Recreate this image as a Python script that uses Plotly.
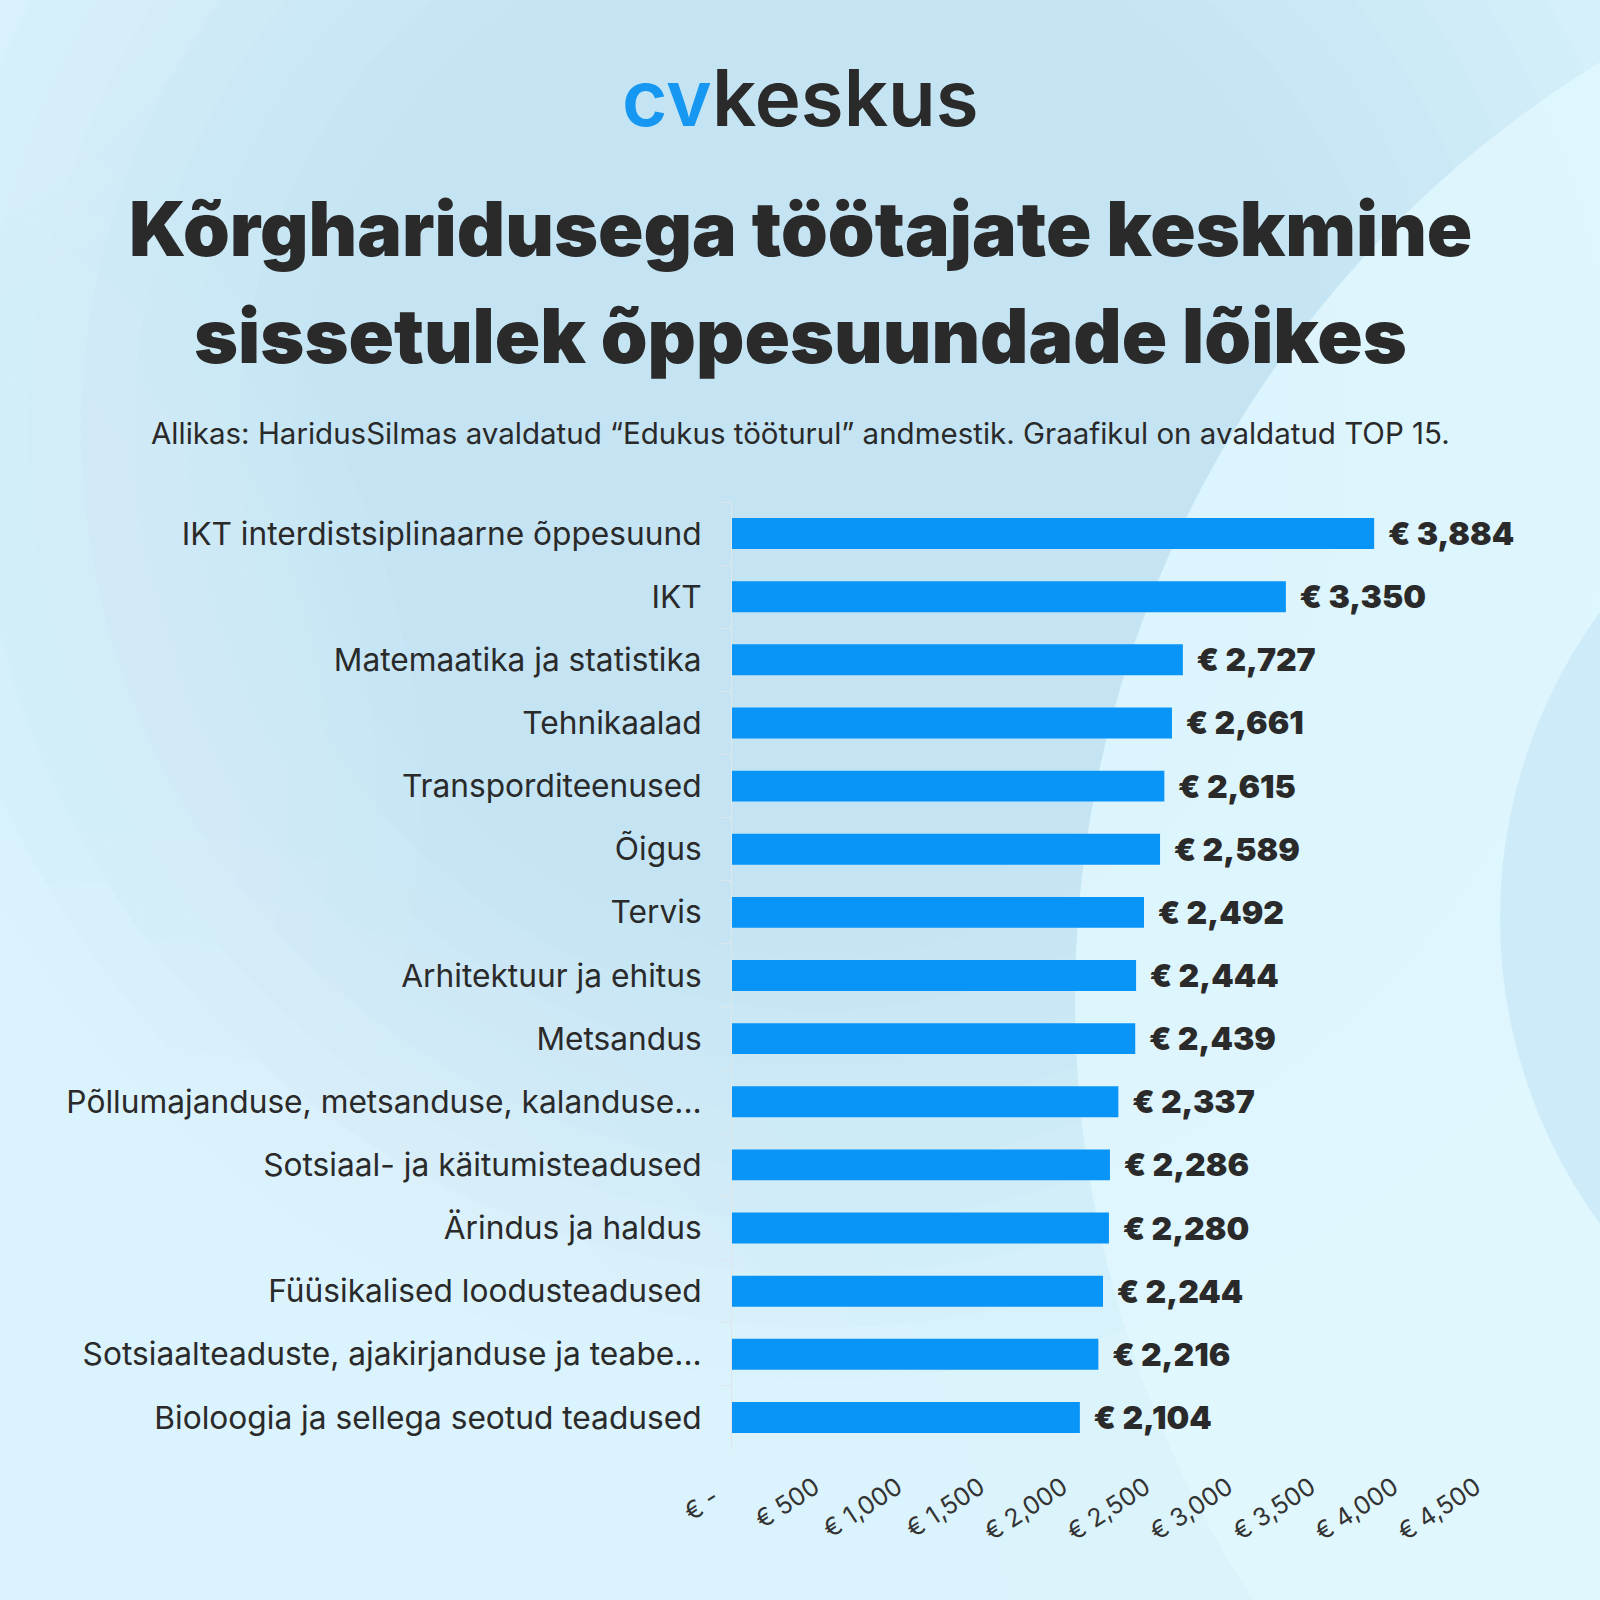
import plotly.graph_objects as go

# ---------------- data ----------------
categories = [
    "IKT interdistsiplinaarne õppesuund",
    "IKT",
    "Matemaatika ja statistika",
    "Tehnikaalad",
    "Transporditeenused",
    "Õigus",
    "Tervis",
    "Arhitektuur ja ehitus",
    "Metsandus",
    "Põllumajanduse, metsanduse, kalanduse...",
    "Sotsiaal- ja käitumisteadused",
    "Ärindus ja haldus",
    "Füüsikalised loodusteadused",
    "Sotsiaalteaduste, ajakirjanduse ja teabe...",
    "Bioloogia ja sellega seotud teadused",
]
income = [3884, 3350, 2727, 2661, 2615, 2589, 2492, 2444, 2439, 2337, 2286, 2280, 2244, 2216, 2104]
tick_values = [0, 500, 1000, 1500, 2000, 2500, 3000, 3500, 4000, 4500]
tick_labels = ["€ -\u00a0\u00a0\u00a0", "€ 500", "€ 1,000", "€ 1,500", "€ 2,000", "€ 2,500",
               "€ 3,000", "€ 3,500", "€ 4,000", "€ 4,500"]

logo_html = "<span style='color:#1697f2'>cv</span>keskus"
title_line1 = "Kõrgharidusega töötajate keskmine"
title_line2 = "sissetulek õppesuundade lõikes"
subtitle = "Allikas: HaridusSilmas avaldatud “Edukus tööturul” andmestik. Graafikul on avaldatud TOP 15."

# ---------------- layout geometry ----------------
W = H = 1600
L, R, T, B = 732, 124, 502, 151
PW = W - L - R
PH = H - T - B


def px(x):
    return (x - L) / PW


def py(y):
    return (H - B - y) / PH


DARK = "#2a2a2a"
FONT = "Inter"

fig = go.Figure()
fig.add_trace(go.Bar(
    x=income,
    y=categories,
    orientation="h",
    marker=dict(color="#0994f7", line=dict(width=0)),
    width=0.49,
    texttemplate="\u00a0\u2009€ %{x:,}",
    textposition="outside",
    textfont=dict(family=FONT, size=32, color=DARK, weight=900),
    constraintext="none",
    cliponaxis=False,
    hoverinfo="skip",
))

# background decoration
shapes = []


def ellipse(cx, cy, r, color):
    shapes.append(dict(type="circle", xref="paper", yref="paper", layer="below",
                       x0=px(cx - r), x1=px(cx + r), y0=py(cy + r), y1=py(cy - r),
                       fillcolor=color, line=dict(width=0)))


def soft(cx, cy, r, rgb, alpha, n=10, inner=0.5):
    for i in range(n):
        rr = r * (1 - (1 - inner) * i / (n - 1))
        ellipse(cx, cy, rr, "rgba(%d,%d,%d,%.3f)" % (rgb + (alpha / n,)))


soft(820, 430, 950, (188, 225, 247), 0.85)
soft(-380, 800, 800, (224, 247, 253), 0.85)
soft(80, 1780, 950, (224, 247, 253), 0.8)
soft(-250, -250, 600, (226, 247, 253), 0.7)
ellipse(2175, 1000, 1100, "rgba(224,247,254,0.85)")
ellipse(2018, 918, 518, "rgba(202,233,248,0.85)")

annotations = [
    dict(text=logo_html, x=px(800), y=py(98), xref="paper", yref="paper",
         showarrow=False, xanchor="center", yanchor="middle",
         font=dict(family=FONT, size=78, color=DARK, weight=600)),
    dict(text=title_line1, x=px(800), y=py(228), xref="paper", yref="paper",
         showarrow=False, xanchor="center", yanchor="middle",
         font=dict(family=FONT, size=75, color=DARK, weight=900)),
    dict(text=title_line2, x=px(800), y=py(335), xref="paper", yref="paper",
         showarrow=False, xanchor="center", yanchor="middle",
         font=dict(family=FONT, size=75, color=DARK, weight=900)),
    dict(text=subtitle, x=px(800), y=py(433), xref="paper", yref="paper",
         showarrow=False, xanchor="center", yanchor="middle",
         font=dict(family=FONT, size=29.5, color=DARK)),
]

fig.update_layout(
    width=W, height=H,
    margin=dict(l=L, r=R, t=T, b=B, pad=0),
    paper_bgcolor="#dbf4fc",
    plot_bgcolor="rgba(0,0,0,0)",
    showlegend=False,
    bargap=0.5,
    shapes=shapes,
    annotations=annotations,
    xaxis=dict(
        range=[0, 4500],
        tickvals=tick_values,
        ticktext=tick_labels,
        tickangle=-33,
        tickfont=dict(family=FONT, size=25, color="#333333"),
        showgrid=False, zeroline=False, showline=False,
        ticks="", ticklabelstandoff=18,
        fixedrange=True,
    ),
    yaxis=dict(
        autorange="reversed",
        tickfont=dict(family=FONT, size=31.7, color=DARK),
        showgrid=False, zeroline=False,
        showline=True, linecolor="#dde6ea", linewidth=1,
        ticks="outside", tickson="boundaries", ticklen=10, tickcolor="#dde6ea",
        ticklabelstandoff=23,
        fixedrange=True,
    ),
)

fig.write_html("out.html", config={"displayModeBar": False},
               post_script="document.body.style.margin='0';document.body.style.overflow='hidden';")
